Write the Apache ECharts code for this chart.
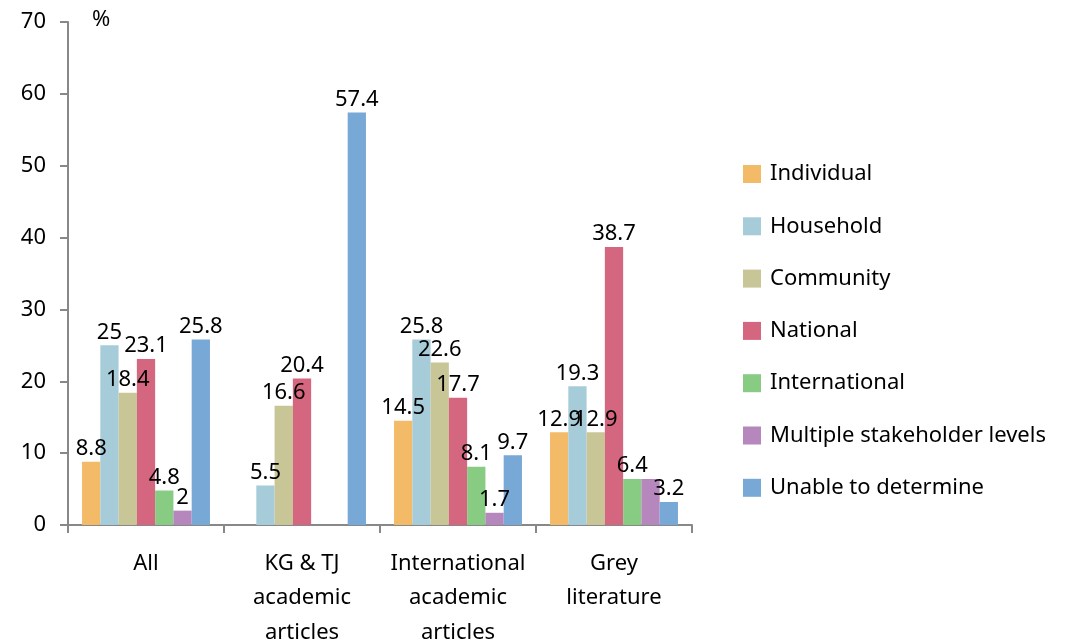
<!DOCTYPE html>
<html>
<head>
<meta charset="utf-8">
<script src="https://cdn.jsdelivr.net/npm/echarts@6/dist/echarts.min.js"></script>
<style>html,body{margin:0;padding:0;background:#fff}#c{width:1073px;height:643px}</style>
</head>
<body>
<div id="c"></div>
<script>
const categories = ["All", "KG & TJ\nacademic\narticles", "International\nacademic\narticles", "Grey\nliterature"];
const seriesNames = ["Individual", "Household", "Community", "National", "International", "Multiple stakeholder levels", "Unable to determine"];
const individual = [8.8, null, 14.5, 12.9];
const household = [25, 5.5, 25.8, 19.3];
const community = [18.4, 16.6, 22.6, 12.9];
const national = [23.1, 20.4, 17.7, 38.7];
const international = [4.8, null, 8.1, 6.4];
const multiple = [2, null, 1.7, 6.4];
const unable = [25.8, 57.4, 9.7, 3.2];
const yTicks = [0, 10, 20, 30, 40, 50, 60, 70];

const values = [individual, household, community, national, international, multiple, unable];
const colors = ["#F3BA68", "#A6CCDA", "#C8C697", "#D4677F", "#88CC84", "#B587BD", "#78A8D5"];
// labels hidden in the reference (overlapped): [seriesIndex, categoryIndex]
const hiddenLabels = [[5, 3]];
const FONT = "'Noto Sans', sans-serif";
const FS = 22;

const series = values.map((vals, si) => ({
  name: seriesNames[si],
  type: 'bar',
  barGap: '0%',
  barCategoryGap: '18%',
  itemStyle: { color: colors[si] },
  label: {
    show: true, position: 'top', distance: 2,
    color: '#000', fontSize: FS, fontFamily: FONT,
    formatter: p => hiddenLabels.some(h => h[0] === si && h[1] === p.dataIndex) || p.value == null ? '' : String(p.value)
  },
  data: vals
}));

const chart = echarts.init(document.getElementById('c'));
chart.setOption({
  animation: false,
  color: colors,
  grid: { left: 68, right: 381, top: 22, bottom: 118, containLabel: false, outerBoundsMode: 'none' },
  graphic: [{ type: 'text', left: 92, top: 9, style: { text: '%', fontSize: FS, fontFamily: FONT, fill: '#000' } }],
  legend: {
    orient: 'vertical', left: 738, top: 158,
    itemWidth: 18, itemHeight: 18, itemGap: 30.3,
    icon: 'rect',
    textStyle: { fontSize: FS, fontFamily: FONT, color: '#000', padding: [0, 0, 0, 4] },
    data: seriesNames
  },
  xAxis: {
    type: 'category', data: categories,
    axisLine: { lineStyle: { color: '#888', width: 2 } },
    axisTick: { show: true, length: 8, lineStyle: { color: '#888', width: 2 } },
    axisLabel: { fontSize: FS, fontFamily: FONT, color: '#000', lineHeight: 34.5, margin: 21, interval: 0 }
  },
  yAxis: {
    type: 'value', min: yTicks[0], max: yTicks[yTicks.length - 1], interval: yTicks[1] - yTicks[0],
    axisLine: { show: true, lineStyle: { color: '#888', width: 2 } },
    axisTick: { show: true, length: 8, lineStyle: { color: '#888', width: 2 } },
    splitLine: { show: false },
    axisLabel: { fontSize: FS, fontFamily: FONT, color: '#000', margin: 22 }
  },
  series: series
});
</script>
</body>
</html>
